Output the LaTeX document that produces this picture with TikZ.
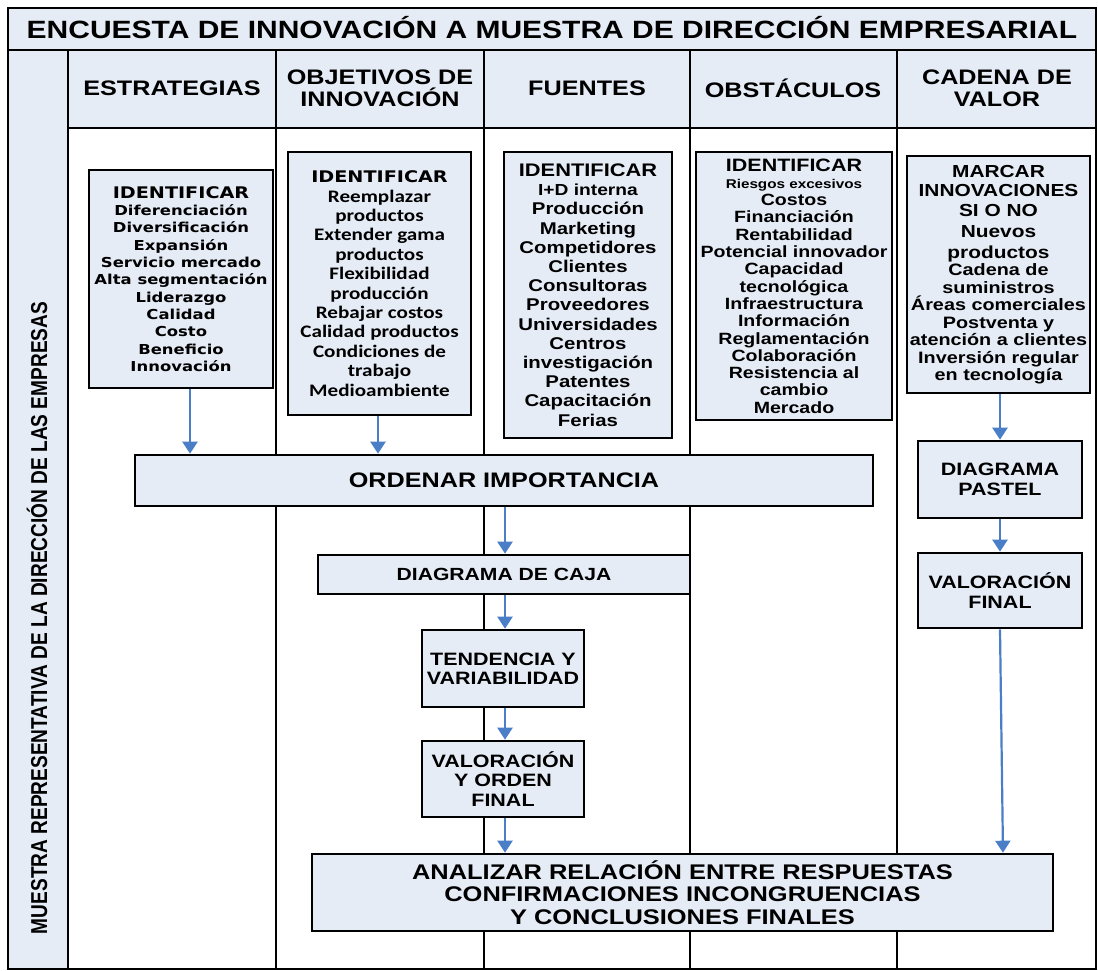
\documentclass[tikz,border=0pt]{standalone}
\usepackage{fontspec}
\usetikzlibrary{arrows.meta}
\newfontfamily\arb[FakeStretch=1.2]{Liberation Sans}
\newfontfamily\arn[FakeStretch=0.83]{Liberation Sans}
\newfontfamily\dvb[FakeStretch=1.2]{DejaVu Sans}
\newfontfamily\cab[FakeStretch=1.2]{Carlito}
\newcommand{\fs}[2]{\fontsize{#1}{#2}\selectfont}
\definecolor{lb}{RGB}{230,236,246}
\definecolor{ab}{RGB}{74,126,199}
\tikzset{
  grid/.style={draw=black, line width=2.5pt},
  box/.style={draw=black, line width=2.6pt, fill=lb, align=center, inner sep=0pt},
  arr/.style={draw=ab, line width=2.2pt, -{Triangle[width=15pt,length=12pt]}},
  hdr/.style={align=center, inner sep=0pt, font=\arb\bfseries\fs{21}{22}},
}
\begin{document}
\begin{tikzpicture}[x=1pt,y=-1pt]
\useasboundingbox (0,0) rectangle (1098,971);
% background fills
\fill[lb] (8,8) rectangle (1096,50);
\fill[lb] (68,50) rectangle (1096,128);
\fill[lb] (8,50) rectangle (68,969);
% grid
\draw[grid] (8,8) rectangle (1096,969);
\draw[grid] (8,50) -- (1096,50);
\draw[grid] (68,128) -- (1096,128);
\foreach \x in {68,276,484,690,897} \draw[grid] (\x,50) -- (\x,969);
% title and headers
\node[hdr, font=\arb\bfseries\fs{25}{27}] (title) at (552,28) {ENCUESTA DE INNOVACIÓN A MUESTRA DE DIRECCIÓN EMPRESARIAL};
\node[hdr] (h1) at (172,88) {ESTRATEGIAS};
\node[hdr] (h2) at (380,88) {OBJETIVOS DE\\INNOVACIÓN};
\node[hdr] (h3) at (587,88) {FUENTES};
\node[hdr] (h4) at (793,88) {OBSTÁCULOS};
\node[hdr] (h5) at (997,88) {CADENA DE\\VALOR};
\node[inner sep=0pt, rotate=90, font=\arn\bfseries\fs{23}{25}] (side) at (37,618) {MUESTRA REPRESENTATIVA DE LA DIRECCIÓN DE LAS EMPRESAS};
% column boxes
\node[box, minimum width=184pt, minimum height=218pt, font=\dvb\bfseries\fs{13.7}{17.3}] (estr) at (181,279)
 {{\fs{16}{20}IDENTIFICAR}\\Diferenciación\\Diversificación\\Expansión\\Servicio mercado\\Alta segmentación\\Liderazgo\\Calidad\\Costo\\Beneficio\\Innovación};
\node[box, minimum width=183pt, minimum height=263pt, font=\cab\bfseries\fs{17.6}{19.4}] (obj) at (379.5,283.5)
 {{\dvb\bfseries\fs{16}{20}IDENTIFICAR}\\Reemplazar\\productos\\Extender gama\\productos\\Flexibilidad\\producción\\Rebajar costos\\Calidad productos\\Condiciones de\\trabajo\\Medioambiente};
\node[box, minimum width=168pt, minimum height=286pt, font=\arb\bfseries\fs{17}{19.2}] (fue) at (588,295)
 {{\fs{18.2}{20}IDENTIFICAR}\\{\fs{16}{19}I+D interna}\\Producción\\Marketing\\Competidores\\Clientes\\Consultoras\\Proveedores\\Universidades\\Centros\\investigación\\Patentes\\Capacitación\\Ferias};
\node[box, minimum width=196pt, minimum height=268pt, font=\arb\bfseries\fs{16.3}{17.3}] (obs) at (794,286)
 {{\fs{17.9}{19}IDENTIFICAR}\\{\fs{12.7}{17}Riesgos excesivos}\\Costos\\Financiación\\Rentabilidad\\Potencial innovador\\Capacidad\\tecnológica\\Infraestructura\\Información\\Reglamentación\\Colaboración\\Resistencia al\\cambio\\Mercado};
\node[box, minimum width=183pt, minimum height=237pt, font=\arb\bfseries\fs{16.5}{17.5}] (cad) at (998.5,274.5)
 {{\fs{17.4}{19.5}MARCAR}\\[1.5pt]{\fs{17.4}{19.5}INNOVACIONES}\\[2.5pt]{\fs{17.4}{19.5}SI O NO}\\[4pt]{\fs{17.4}{20}Nuevos}\\[3pt]{\fs{17.4}{20}productos}\\Cadena de\\suministros\\Áreas comerciales\\Postventa y\\atención a clientes\\Inversión regular\\en tecnología};
% process boxes
\node[box, minimum width=738pt, minimum height=51pt, font=\arb\bfseries\fs{21}{23}] (ord) at (504,480.5) {ORDENAR IMPORTANCIA};
\node[box, minimum width=372pt, minimum height=39pt, font=\arb\bfseries\fs{17.6}{19}] (caja) at (504,574.5) {DIAGRAMA DE CAJA};
\node[box, minimum width=162pt, minimum height=77pt, font=\arb\bfseries\fs{17.9}{19.5}] (tend) at (503,668.5) {TENDENCIA Y\\VARIABILIDAD};
\node[box, minimum width=162pt, minimum height=76pt, font=\arb\bfseries\fs{17.9}{19.5}] (valo) at (503,779) {VALORACIÓN\\Y ORDEN\\FINAL};
\node[box, minimum width=741pt, minimum height=77pt, font=\arb\bfseries\fs{21.2}{22.5}] (anal) at (682.5,892.5) {ANALIZAR RELACIÓN ENTRE RESPUESTAS\\CONFIRMACIONES INCONGRUENCIAS\\Y CONCLUSIONES FINALES};
\node[box, minimum width=164pt, minimum height=77pt, font=\arb\bfseries\fs{17.9}{20}] (past) at (1000,479.5) {DIAGRAMA\\PASTEL};
\node[box, minimum width=164pt, minimum height=75pt, font=\arb\bfseries\fs{17.9}{20}] (vfin) at (1000,590.5) {VALORACIÓN\\FINAL};
% arrows
\draw[arr] ([xshift=9pt]estr.south) -- ([xshift=9pt]estr.south |- ord.north);
\draw[arr] ([xshift=-1.5pt]obj.south) -- ([xshift=-1.5pt]obj.south |- ord.north);
\draw[arr] ([xshift=1pt]ord.south) -- ([xshift=1pt]ord.south |- caja.north);
\draw[arr] ([xshift=1pt]caja.south) -- ([xshift=1pt]caja.south |- tend.north);
\draw[arr] ([xshift=2pt]tend.south) -- ([xshift=2pt]tend.south |- valo.north);
\draw[arr] ([xshift=2pt]valo.south) -- ([xshift=2pt]valo.south |- anal.north);
\draw[arr] (past.north |- cad.south) -- (past.north);
\draw[arr] (past.south) -- (vfin.north);
\draw[arr] (vfin.south) -- ([xshift=3pt]vfin.south |- anal.north);
\end{tikzpicture}
\end{document}
